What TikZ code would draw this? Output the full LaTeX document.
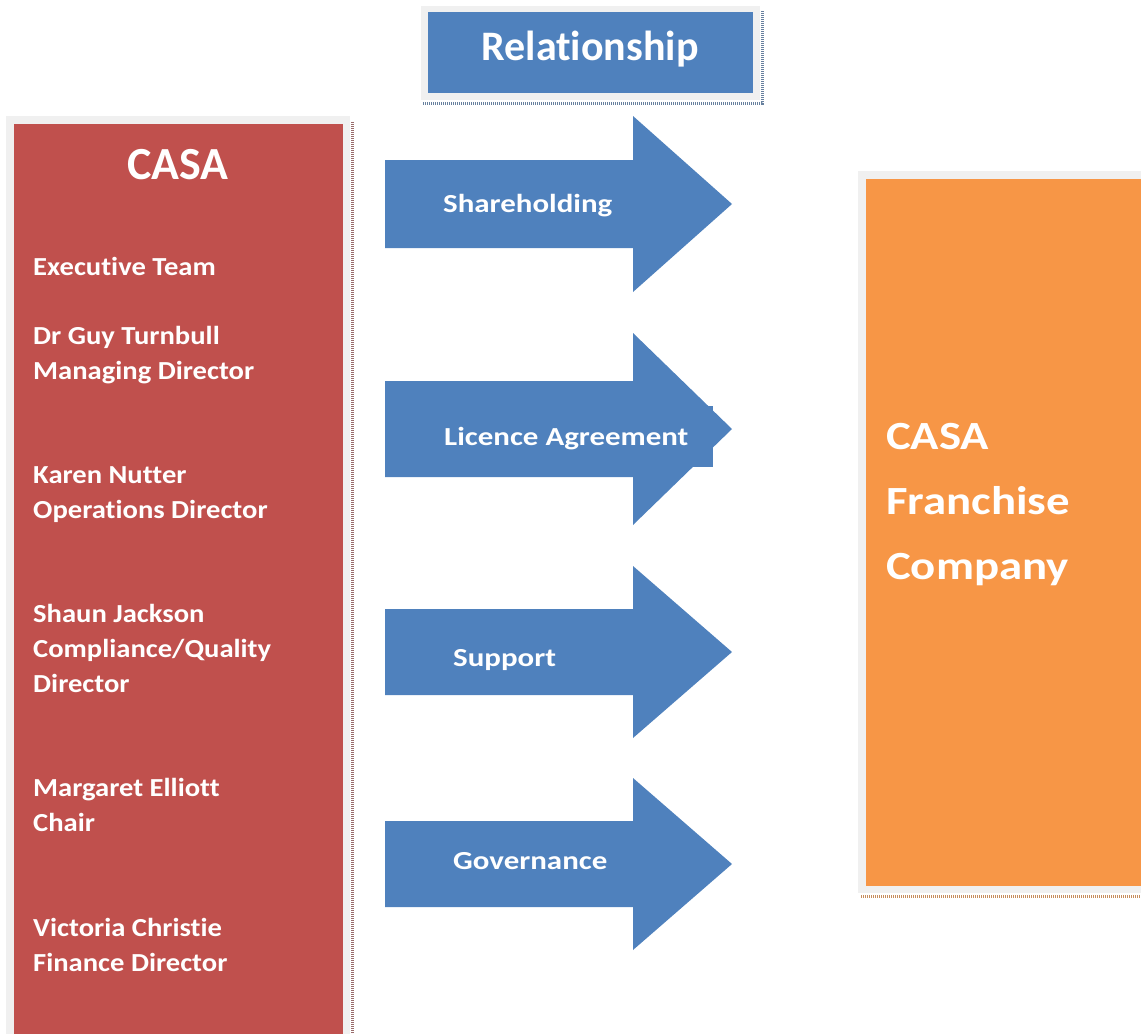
\documentclass[tikz,border=0pt]{standalone}
\usepackage{fontspec}
\setmainfont[Ligatures=NoCommon]{Carlito}
\newfontfamily\namefont[FakeStretch=1.1, Ligatures=NoCommon]{Carlito}
\newfontfamily\arrowfont[FakeStretch=1.19, Ligatures=NoCommon]{Carlito}
\newfontfamily\franfont[FakeStretch=1.17, Ligatures=NoCommon]{Carlito}
\usetikzlibrary{positioning}
\definecolor{relblue}{HTML}{4F81BD}
\definecolor{casared}{HTML}{C0504D}
\definecolor{franorange}{HTML}{F79646}
\definecolor{framegray}{HTML}{F0F0F0}

\begin{document}
\begin{tikzpicture}[x=1pt, y=-1pt,
		boxfill/.style={anchor=north west, inner sep=0pt, draw=none},
		shadowline/.style={line width=3pt, dash pattern=on 1pt off 1pt},
		namelbl/.style={anchor=base west, inner sep=0pt, text=white, align=left, font=\namefont\bfseries\fontsize{26}{35}\selectfont},
		arrowlbl/.style={anchor=base west, inner sep=0pt, text=white, font=\arrowfont\bfseries\fontsize{26}{30}\selectfont}]
		\useasboundingbox (0,0) rectangle (1141,1034);

		% header box
		\fill[framegray] (421,6) rectangle (760,100);
		\draw[shadowline, draw=relblue!50!gray] (423,103) -- (762,103) -- (762,10);
		\node[boxfill, fill=relblue, minimum width=325pt, minimum height=81pt] (head) at (428,12) {};
		\node[anchor=base, inner sep=0pt, text=white, font=\bfseries\fontsize{42}{50}\selectfont] (headtxt) at (590,60) {Relationship};

		% CASA box
		\fill[framegray] (6,116) rectangle (350,1034);
		\draw[shadowline, draw=casared!40!gray] (352,122) -- (352,1034);
		\node[boxfill, fill=casared, minimum width=329pt, minimum height=910pt] (casa) at (14,124) {};
		\node[anchor=base, inner sep=0pt, text=white, font=\bfseries\fontsize{46}{50}\selectfont] (casatxt) at (178,179) {CASA};
		% multi-line names sit on the baseline of their last line
		\node[namelbl] (exec) at (33,275) {Executive Team};
		\node[namelbl] (guy) at (33,379) {Dr Guy Turnbull\\Managing Director};
		\node[namelbl] (karen) at (33,518) {Karen Nutter\\Operations Director};
		\node[namelbl] (shaun) at (33,692) {Shaun Jackson\\Compliance/Quality\\Director};
		\node[namelbl] (margaret) at (33,831) {Margaret Elliott\\Chair};
		\node[namelbl] (victoria) at (33,971) {Victoria Christie\\Finance Director};

		% franchise box
		\fill[framegray] (858,171) rectangle (1141,893);
		\draw[shadowline, draw=franorange!60!gray] (861,896) -- (1141,896);
		\node[boxfill, fill=franorange, minimum width=275pt, minimum height=707pt] (fran) at (866,179) {};
		\node[anchor=base west, inner sep=0pt, text=white, align=left, font=\franfont\bfseries\fontsize{40}{65}\selectfont] (frantxt) at (886,579) {CASA\\Franchise\\Company};

		% block arrows
		\foreach \yc/\h in {204/44, 429/48, 652/43, 864/43}
			\fill[relblue] (385,{\yc-\h}) -- (633,{\yc-\h}) -- (633,{\yc-2*\h}) -- (732,\yc)
				-- (633,{\yc+2*\h}) -- (633,{\yc+\h}) -- (385,{\yc+\h}) -- cycle;
		\fill[relblue] (440,406) rectangle (713,467);
		\node[arrowlbl] (share) at (443,212) {Shareholding};
		\node[arrowlbl] (licence) at (444,445) {Licence Agreement};
		\node[arrowlbl] (support) at (453,666) {Support};
		\node[arrowlbl] (gov) at (453,869) {Governance};
	\end{tikzpicture}
\end{document}
